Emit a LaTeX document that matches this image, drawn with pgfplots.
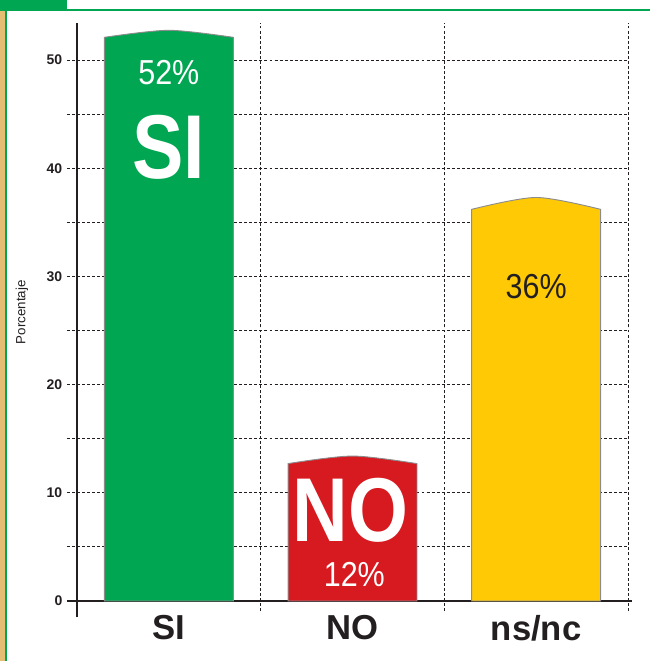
\documentclass[border=0pt]{standalone}
\usepackage{fontspec}
\setmainfont{Liberation Sans}
\usepackage{graphicx}
\usepackage{pgfplots}
\pgfplotsset{compat=1.18}

\definecolor{sigreen}{HTML}{00A651}
\definecolor{nored}{HTML}{D71920}
\definecolor{nsyellow}{HTML}{FFCA05}
\definecolor{ink}{HTML}{231F20}
\definecolor{outl}{HTML}{8C8C8C}
\definecolor{tanstrip}{HTML}{E3BE73}

\begin{document}
\begin{tikzpicture}
\useasboundingbox (0,0) rectangle (487.5pt,-495.75pt);
% page frame
\fill[tanstrip] (0,-8.25pt) rectangle (3.75pt,-495.75pt);
\fill[sigreen] (3.75pt,-6.75pt) rectangle (5.25pt,-495.75pt);
\fill[sigreen] (0,-6.5pt) rectangle (487.5pt,-8.5pt);
\fill[sigreen] (0,0) rectangle (50.25pt,-8.25pt);

\begin{axis}[
  at={(57.75pt,-450.75pt)}, anchor=south west,
  scale only axis, width=413.25pt, height=433.3pt,
  xmin=0, xmax=3, ymin=0, ymax=53.4,
  axis x line*=bottom, axis y line*=left,
  axis line style={ink, line width=1.8pt},
  x axis line style={-, shorten <=-7.5pt, shorten >=-3pt},
  y axis line style={-, shorten <=-12pt},
  xtick={1,2,3}, xticklabels={},
  ytick={0,10,...,50}, minor ytick={5,15,...,45},
  xmajorgrids, ymajorgrids, yminorgrids,
  grid style={ink, line width=0.65pt, dash pattern=on 2.2pt off 1.6pt},
  minor grid style={ink, line width=0.65pt, dash pattern=on 2.2pt off 1.6pt},
  tick align=outside, major tick length=7.5pt, minor tick length=7.5pt,
  tick style={ink, line width=0.65pt, dash pattern=on 2.2pt off 1.6pt},
  xtick pos=bottom, ytick pos=left,
  /pgf/number format/assume math mode=true,
  yticklabel style={font=\bfseries\fontsize{10.5}{12}\selectfont, text=ink},
  extra x ticks={0.5,1.5,2.5},
  extra x tick labels={SI,NO,ns/nc},
  extra x tick style={grid=none, tick style={draw=none},
    xticklabel style={font=\bfseries\fontsize{26}{30}\selectfont, text=ink}},
  ylabel={Porcentaje},
  every axis y label/.style={at={(axis description cs:-0.0998,0.5)},
    anchor=center, rotate=90, font=\fontsize{10}{12}\selectfont, text=ink},
]
% bars
\addplot[ybar, bar width=0.702, bar shift=0pt, fill=sigreen, draw=none] coordinates {(0.5,52.1)};
\addplot[ybar, bar width=0.702, bar shift=0pt, fill=nored, draw=none] coordinates {(1.5,12.7)};
\addplot[ybar, bar width=0.702, bar shift=0pt, fill=nsyellow, draw=none] coordinates {(2.5,36.2)};
% rounded caps with outline
\addplot[smooth, fill=sigreen, draw=outl, line width=0.7pt] coordinates {(0.149,52.1) (0.5,52.75) (0.851,52.1)} \closedcycle;
\addplot[smooth, fill=nored, draw=outl, line width=0.7pt] coordinates {(1.149,12.7) (1.5,13.4) (1.851,12.7)} \closedcycle;
\addplot[smooth, fill=nsyellow, draw=outl, line width=0.7pt] coordinates {(2.149,36.2) (2.5,37.3) (2.851,36.2)} \closedcycle;

\node[inner sep=0, text=white, font=\fontsize{26}{30}\selectfont] at (axis cs:0.5,48.8) {\scalebox{0.88}[1]{52\%}};
\node[inner sep=0, text=white, font=\bfseries\fontsize{68}{70}\selectfont] at (axis cs:0.5,41.9) {\scalebox{0.85}[1]{SI}};
\node[inner sep=0, text=white, font=\bfseries\fontsize{68}{70}\selectfont] at (axis cs:1.49,8.36) {\scalebox{0.85}[1]{NO}};
\node[inner sep=0, text=white, font=\fontsize{26}{30}\selectfont] at (axis cs:1.51,2.45) {\scalebox{0.88}[1]{12\%}};
\node[inner sep=0, text=ink, font=\fontsize{26}{30}\selectfont] at (axis cs:2.5,29.07) {\scalebox{0.88}[1]{36\%}};
\end{axis}
\end{tikzpicture}
\end{document}
